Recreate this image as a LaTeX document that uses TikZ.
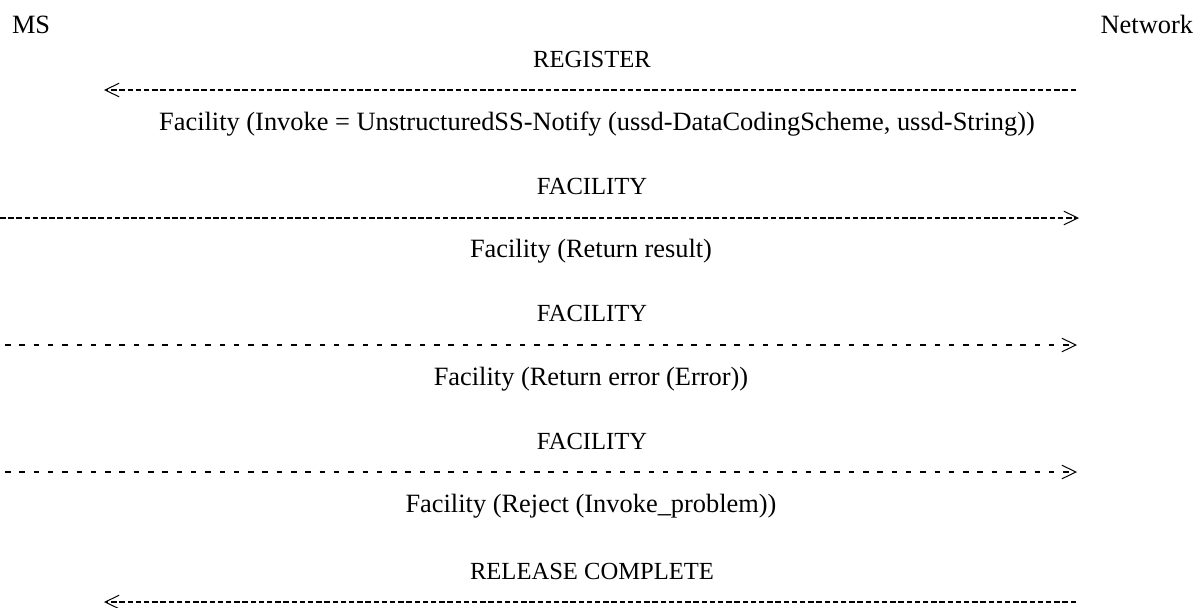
\documentclass[tikz,border=0pt]{standalone}
\usepackage{fontspec}
\setmainfont{Liberation Serif}
\usepackage{tikz}
\usetikzlibrary{arrows.meta}

\begin{document}
\begin{tikzpicture}[x=0.5pt,y=-0.5pt,
  txt/.style={inner sep=0pt,outer sep=0pt,anchor=base,font=\fontsize{12.3}{14}\selectfont},
  lbl/.style={txt,font=\fontsize{13.2}{15}\selectfont},
  msg/.style={line width=0.8pt,dash pattern=on 2.75pt off 1.35pt,
    -{Straight Barb[length=7pt,width=6.8pt,line width=0.5pt]}},
  sparse/.style={msg,dash pattern=on 2.75pt off 4.4pt}]
  \useasboundingbox (0,0) rectangle (1202,607);

  % end points
  \node [lbl,anchor=base west] (MS) at (12,33) {MS};
  \node [lbl,anchor=base east] (NW) at (1193,33) {Network};

  % REGISTER
  \node [txt] (T1) at (592,67) {REGISTER};
  \coordinate (A1l) at (104,90);
  \coordinate (A1r) at (1076,90);
  \node [lbl] (L1) at (597,130) {Facility (Invoke = UnstructuredSS-Notify (ussd-DataCodingScheme, ussd-String))};

  % FACILITY, return result
  \node [txt] (T2) at (592,194) {FACILITY};
  \coordinate (A2l) at (0,218);
  \coordinate (A2r) at (1079,218);
  \node [lbl] (L2) at (591,257) {Facility (Return result)};

  % FACILITY, return error
  \node [txt] (T3) at (592,321) {FACILITY};
  \coordinate (A3l) at (5,345);
  \coordinate (A3r) at (1077,345);
  \node [lbl] (L3) at (591,385) {Facility (Return error (Error))};

  % FACILITY, reject
  \node [txt] (T4) at (592,449) {FACILITY};
  \coordinate (A4l) at (5,472);
  \coordinate (A4r) at (1077,472);
  \node [lbl] (L4) at (591,512) {Facility (Reject (Invoke\_problem))};

  % RELEASE COMPLETE
  \node [txt] (T5) at (592,579) {RELEASE COMPLETE};
  \coordinate (A5l) at (104,602);
  \coordinate (A5r) at (1076,602);

  \path
    (A1r) edge[msg]    (A1l)
    (A2l) edge[msg]    (A2r)
    (A3l) edge[sparse] (A3r)
    (A4l) edge[sparse] (A4r)
    (A5r) edge[msg]    (A5l);
\end{tikzpicture}
\end{document}
